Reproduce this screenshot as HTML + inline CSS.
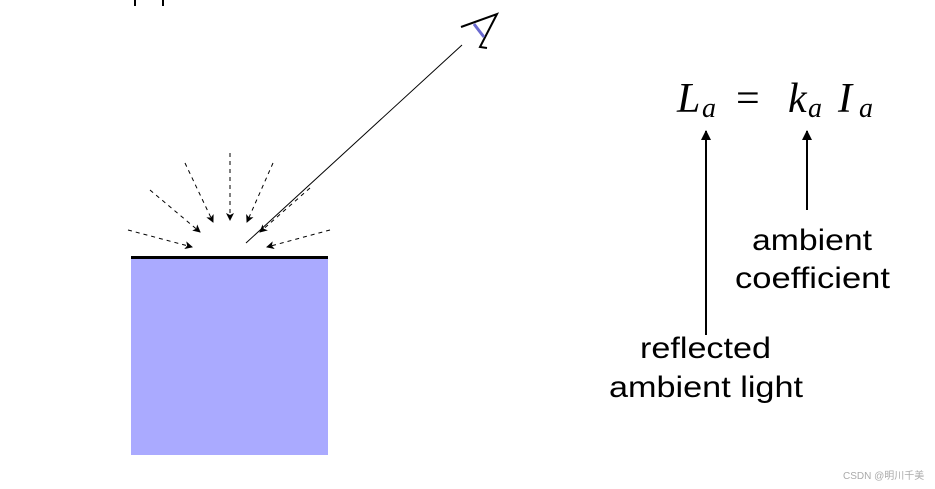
<!DOCTYPE html>
<html><head><meta charset="utf-8"><style>
html,body{margin:0;padding:0;background:#fff;width:935px;height:489px;overflow:hidden}
</style></head><body>
<svg width="935" height="489" xmlns="http://www.w3.org/2000/svg">
<defs>
<marker id="ah" markerWidth="8" markerHeight="8" refX="7" refY="4" orient="auto" markerUnits="userSpaceOnUse">
<path d="M0,0 L8,4 L0,8 L2,4 Z" fill="#000"/></marker>
<marker id="ab" markerWidth="10" markerHeight="10" refX="9" refY="5" orient="auto" markerUnits="userSpaceOnUse">
<path d="M0,0 L10,5 L0,10 Z" fill="#000"/></marker>
</defs>
<line x1="135" y1="0" x2="135" y2="6" stroke="#000" stroke-width="2"/>
<line x1="163" y1="0" x2="163" y2="6" stroke="#000" stroke-width="2"/>
<rect x="131" y="257" width="197" height="198" fill="#aaaaff"/>
<line x1="131" y1="257.5" x2="328" y2="257.5" stroke="#000" stroke-width="3"/>
<g stroke="#000" stroke-width="1" stroke-dasharray="4,4" fill="none">
<line x1="128" y1="230" x2="192" y2="247" marker-end="url(#ah)"/>
<line x1="150" y1="190" x2="200" y2="232" marker-end="url(#ah)"/>
<line x1="185" y1="163" x2="213" y2="222" marker-end="url(#ah)"/>
<line x1="230" y1="153" x2="230" y2="220" marker-end="url(#ah)"/>
<line x1="273" y1="163" x2="247" y2="222" marker-end="url(#ah)"/>
<line x1="310" y1="188" x2="260" y2="232" marker-end="url(#ah)"/>
<line x1="330" y1="230" x2="267" y2="247" marker-end="url(#ah)"/>
</g>
<line x1="246" y1="243" x2="462" y2="45" stroke="#000" stroke-width="1"/>
<path d="M461,27 L497,14 L480,47 L487,48" stroke="#000" stroke-width="2" fill="none"/>
<path d="M474,24 Q480,32 484,37" stroke="#6a6ad0" stroke-width="3" fill="none"/>
<g font-family="Liberation Serif, serif" font-style="italic">
<text x="677" y="112" font-size="42">L</text>
<text x="702" y="117" font-size="28">a</text>
<text x="788" y="112" font-size="42">k</text>
<text x="808" y="117" font-size="28">a</text>
<text x="838" y="112" font-size="42">I</text>
<text x="859" y="117" font-size="28">a</text>
</g>
<text x="736" y="112" font-family="Liberation Serif, serif" font-size="42">=</text>
<line x1="706" y1="335" x2="706" y2="131" stroke="#000" stroke-width="2" marker-end="url(#ab)"/>
<line x1="807" y1="210" x2="807" y2="131" stroke="#000" stroke-width="2" marker-end="url(#ab)"/>
<g font-family="Liberation Sans, sans-serif" font-size="30" fill="#000">
<text x="752" y="250" textLength="120" lengthAdjust="spacingAndGlyphs">ambient</text>
<text x="735" y="288" textLength="155" lengthAdjust="spacingAndGlyphs">coefficient</text>
<text x="640" y="358" textLength="131" lengthAdjust="spacingAndGlyphs">reflected</text>
<text x="609" y="397" textLength="194" lengthAdjust="spacingAndGlyphs">ambient light</text>
</g>
<text x="843" y="479" font-family="Liberation Sans, 'Noto Sans CJK SC', sans-serif" font-size="10" fill="#aaa">CSDN @明川千美</text>
</svg>
</body></html>
